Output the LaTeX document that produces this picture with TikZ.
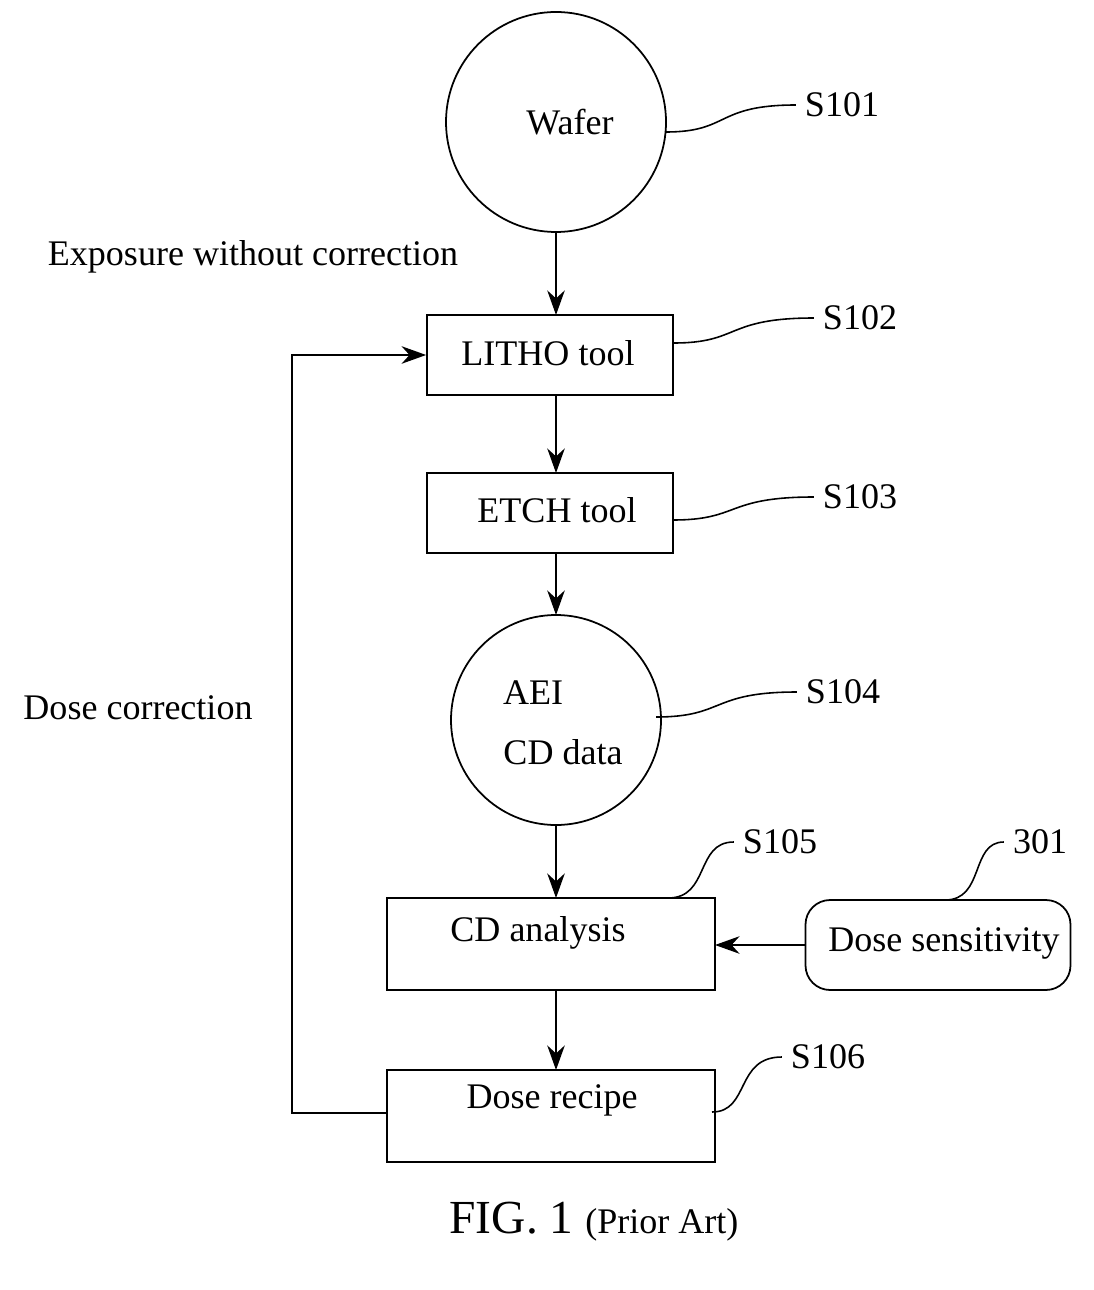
\documentclass[tikz,border=0pt]{standalone}
\usepackage{fontspec}
\setmainfont{Liberation Serif}
\usetikzlibrary{arrows.meta}
\begin{document}
\begin{tikzpicture}[x=0.02cm,y=-0.02cm,
  txt/.style={font=\fontsize{20.5}{22}\selectfont,inner sep=0pt},
  box/.style={draw,line width=1pt},
  arr/.style={-{Stealth[length=14pt,width=10pt]},line width=0.9pt},
  lead/.style={line width=0.9pt}]
\useasboundingbox (0,0) rectangle (1093,1290);
\draw[box] (556,122) circle (110);
\node[txt] (wafer) at (570,122) {Wafer};
\coordinate (c1) at (556,232);
\node[txt] (s101) at (842,105) {S101};
\draw[lead] (666,132) .. controls (730,132) and (715,105) .. ([xshift=-5pt]s101.west);
\node[txt] (exp) at (253,257) {Exposure without correction};
\node[box,minimum width=246*0.02cm,minimum height=80*0.02cm] (litho) at (550,355) {};
\node[txt] at (548,353) {LITHO tool};
\node[txt] (s102) at (860,318) {S102};
\draw[lead] (litho.east|-0,343) .. controls (740,343) and (725,318) .. ([xshift=-5pt]s102.west);
\draw[arr] (c1) -- (556,315);
\node[box,minimum width=246*0.02cm,minimum height=80*0.02cm] (etch) at (550,513) {};
\node[txt] at (557,510) {ETCH tool};
\node[txt] (s103) at (860,497) {S103};
\draw[lead] (673,520) .. controls (740,520) and (725,497) .. ([xshift=-5pt]s103.west);
\draw[arr] (556,553) -- (556,615);
\draw[arr] (556,395) -- (556,473);
\draw[box] (556,720) circle (105);
\node[txt] (aei) at (533,693) {AEI};
\node[txt] (cd) at (563,752) {CD data};
\node[txt] (s104) at (843,692) {S104};
\draw[lead] (656,717) .. controls (725,717) and (710,692) .. ([xshift=-5pt]s104.west);
\node[box,minimum width=328*0.02cm,minimum height=92*0.02cm] (cda) at (551,944) {};
\node[txt] at (538,933) {CD analysis};
\node[txt] (s105) at (780,842) {S105};
\draw[lead] (668,898) .. controls (710,898) and (695,842) .. ([xshift=-5pt]s105.west);
\draw[arr] (556,825) -- (556,898);
\node[draw,line width=1pt,rounded corners=14pt,minimum width=265*0.02cm,minimum height=90*0.02cm] (ds) at (938,945) {};
\node[txt] at (944,943) {Dose sensitivity};
\node[txt] (n301) at (1040,842) {301};
\draw[lead] (945,900) .. controls (985,900) and (970,842) .. ([xshift=-5pt]n301.west);
\draw[arr] (ds.west) -- (715,945);
\node[box,minimum width=328*0.02cm,minimum height=92*0.02cm] (dr) at (551,1116) {};
\node[txt] at (552,1100) {Dose recipe};
\node[txt] (s106) at (828,1057) {S106};
\draw[lead] (712,1112) .. controls (750,1112) and (735,1057) .. ([xshift=-5pt]s106.west);
\draw[arr] (556,990) -- (556,1070);
\draw[arr,line width=0.8pt] (387,1113) -- (292,1113) -- (292,355) -- (litho.west);
\node[txt] (dc) at (138,708) {Dose correction};
\node[inner sep=0pt] (fig) at (594,1222) {\fontsize{27}{30}\selectfont FIG. 1 \fontsize{20.5}{22}\selectfont(Prior Art)};
\end{tikzpicture}
\end{document}
